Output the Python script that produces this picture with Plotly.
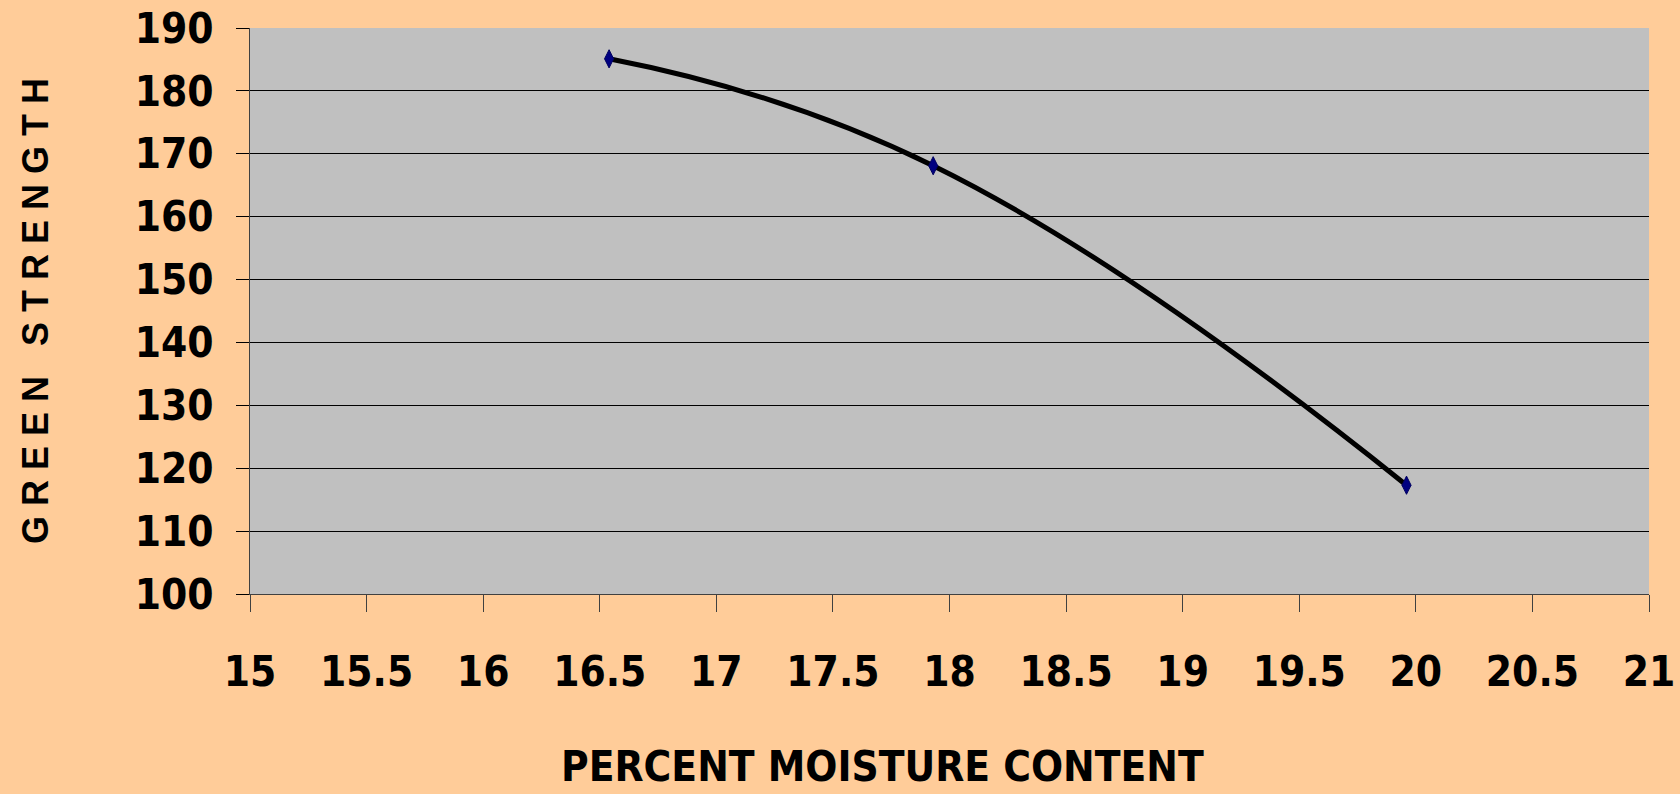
import plotly.graph_objects as go

moisture = [16.54, 17.93, 19.96]
strength = [185.1, 168.1, 117.3]

x_range = [15, 21]
y_range = [100, 190]

NARROW = "DejaVu Sans Condensed, Liberation Sans Narrow, Arial Narrow, Liberation Sans, sans-serif"

tick_font = dict(family=NARROW, size=42, color="black", weight="bold")

fig = go.Figure()

# wygładzona krzywa (trendline)
fig.add_trace(go.Scatter(
    x=moisture, y=strength,
    mode="lines",
    line=dict(color="black", width=5, shape="spline", smoothing=1.3),
    hoverinfo="skip",
    showlegend=False,
))

# punkty pomiarowe
fig.add_trace(go.Scatter(
    x=moisture, y=strength,
    mode="markers",
    marker=dict(symbol="diamond-tall", size=13, color="#000080",
                line=dict(width=1, color="#000060")),
    showlegend=False,
))

fig.update_layout(
    width=1680, height=794,
    paper_bgcolor="#FFCC99",
    plot_bgcolor="#C0C0C0",
    margin=dict(l=250, r=31, t=28, b=200),
    font=dict(family=NARROW, color="black"),
    xaxis=dict(
        range=x_range, dtick=0.5, tick0=15,
        showgrid=False, zeroline=False,
        showline=True, linecolor="#404040", linewidth=1,
        ticks="outside", ticklen=17, tickcolor="#404040", tickwidth=1,
        tickfont=tick_font, ticklabelstandoff=24,
        automargin=False,
    ),
    yaxis=dict(
        range=y_range, dtick=10, tick0=100,
        showgrid=True, gridcolor="black", gridwidth=1,
        zeroline=False,
        showline=True, linecolor="#404040", linewidth=1,
        ticks="outside", ticklen=13, tickcolor="black", tickwidth=1,
        tickfont=tick_font, ticklabelstandoff=14,
        automargin=False,
    ),
    annotations=[
        dict(
            text="PERCENT MOISTURE CONTENT",
            xref="paper", yref="paper",
            x=(882 - 250) / 1399, y=-(766 - 594) / 566,
            xanchor="center", yanchor="middle",
            showarrow=False,
            font=dict(family=NARROW, size=42, color="black", weight="bold"),
        ),
        dict(
            text="G R E E N   S T R E N G T H",
            xref="paper", yref="paper",
            x=-(250 - 35) / 1399, y=0.5,
            xanchor="center", yanchor="middle",
            textangle=-90,
            showarrow=False,
            font=dict(family="Liberation Sans, Arial, sans-serif", size=36, color="black", weight="bold"),
        ),
    ],
)

fig.write_html("out.html", config={"displayModeBar": False},
               post_script="document.body.style.margin='0';")
